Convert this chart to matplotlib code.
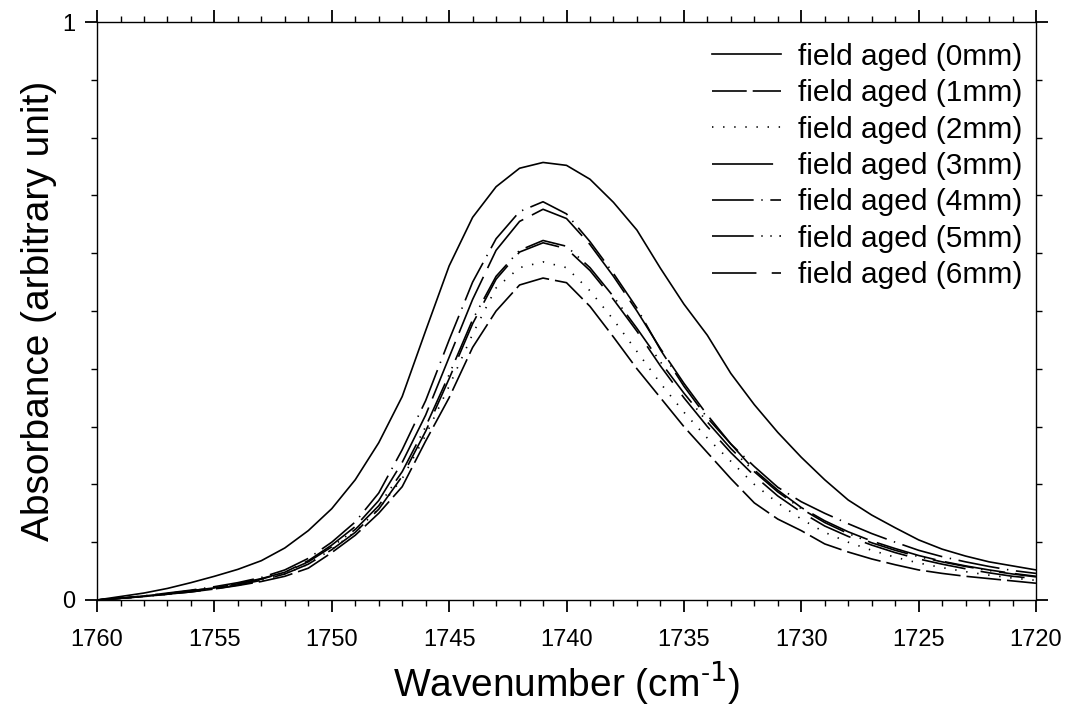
import matplotlib

matplotlib.use('Agg')

import matplotlib.pyplot as plt
from matplotlib.ticker import MultipleLocator, FixedLocator

plt.rcParams['font.family'] = ['Liberation Sans', 'DejaVu Sans']
plt.rcParams['lines.scale_dashes'] = False

# wavenumber axis (cm-1), one point per unit
wavenumber = list(range(1760, 1719, -1))

# absorbance, 1760 -> 1720
aged_0mm = [0.000, 0.006, 0.012, 0.020, 0.030, 0.041, 0.053, 0.068, 0.090, 0.120,
            0.158, 0.208, 0.272, 0.352, 0.466, 0.578, 0.662, 0.715, 0.747, 0.757,
            0.752, 0.728, 0.688, 0.640, 0.574, 0.512, 0.458, 0.392, 0.338, 0.290,
            0.247, 0.208, 0.173, 0.147, 0.125, 0.104, 0.088, 0.076, 0.066, 0.059,
            0.052]
aged_1mm = [0.000, 0.003, 0.006, 0.010, 0.014, 0.019, 0.025, 0.032, 0.041, 0.055,
            0.082, 0.112, 0.150, 0.196, 0.275, 0.350, 0.437, 0.500, 0.545, 0.557,
            0.549, 0.508, 0.455, 0.400, 0.350, 0.300, 0.255, 0.210, 0.168, 0.140,
            0.120, 0.097, 0.083, 0.071, 0.061, 0.052, 0.046, 0.041, 0.037, 0.033,
            0.029]
aged_2mm = [0.000, 0.003, 0.006, 0.010, 0.015, 0.020, 0.026, 0.034, 0.045, 0.062,
            0.088, 0.118, 0.158, 0.210, 0.285, 0.370, 0.460, 0.540, 0.575, 0.585,
            0.575, 0.535, 0.485, 0.430, 0.375, 0.325, 0.280, 0.240, 0.200, 0.168,
            0.140, 0.117, 0.100, 0.086, 0.074, 0.064, 0.056, 0.049, 0.043, 0.038,
            0.034]
aged_3mm = [0.000, 0.003, 0.007, 0.011, 0.016, 0.021, 0.028, 0.037, 0.048, 0.068,
            0.095, 0.127, 0.172, 0.238, 0.320, 0.420, 0.520, 0.605, 0.655, 0.676,
            0.660, 0.615, 0.560, 0.500, 0.435, 0.375, 0.320, 0.270, 0.225, 0.190,
            0.160, 0.137, 0.118, 0.102, 0.089, 0.077, 0.067, 0.059, 0.052, 0.046,
            0.041]
aged_4mm = [0.000, 0.003, 0.007, 0.012, 0.017, 0.023, 0.030, 0.039, 0.052, 0.072,
            0.100, 0.135, 0.185, 0.260, 0.345, 0.450, 0.550, 0.625, 0.672, 0.689,
            0.668, 0.620, 0.565, 0.505, 0.433, 0.370, 0.315, 0.270, 0.231, 0.195,
            0.170, 0.150, 0.132, 0.115, 0.100, 0.086, 0.075, 0.066, 0.058, 0.051,
            0.046]
aged_5mm = [0.000, 0.003, 0.006, 0.011, 0.016, 0.021, 0.028, 0.036, 0.048, 0.066,
            0.092, 0.122, 0.163, 0.222, 0.300, 0.390, 0.485, 0.560, 0.605, 0.622,
            0.612, 0.575, 0.525, 0.470, 0.412, 0.358, 0.308, 0.262, 0.222, 0.187,
            0.158, 0.134, 0.115, 0.099, 0.086, 0.075, 0.066, 0.058, 0.051, 0.045,
            0.040]
aged_6mm = [0.000, 0.003, 0.006, 0.010, 0.014, 0.019, 0.026, 0.034, 0.045, 0.062,
            0.087, 0.117, 0.157, 0.214, 0.292, 0.383, 0.478, 0.555, 0.602, 0.618,
            0.608, 0.570, 0.520, 0.465, 0.405, 0.350, 0.300, 0.255, 0.215, 0.180,
            0.152, 0.128, 0.110, 0.095, 0.082, 0.071, 0.062, 0.054, 0.047, 0.041,
            0.037]

labels = ['field aged (0mm)', 'field aged (1mm)', 'field aged (2mm)', 'field aged (3mm)',
          'field aged (4mm)', 'field aged (5mm)', 'field aged (6mm)']
series = [aged_0mm, aged_1mm, aged_2mm, aged_3mm, aged_4mm, aged_5mm, aged_6mm]
# dash patterns in points
styles = ['-',
          (0, (25, 4.3)),
          (0, (1, 7)),
          (0, (44, 7)),
          (0, (30, 5.5, 1, 5.5)),
          (0, (30, 5.5, 1, 5.5, 1, 5.5)),
          (0, (32, 11))]

fig = plt.figure(figsize=(10.71, 7.17), dpi=100)
ax = fig.add_axes([0.0906, 0.1632, 0.8767, 0.8061])

for y, lab, ls in zip(series, labels, styles):
    ax.plot(wavenumber, y, color='black', linewidth=1.2, linestyle=ls, label=lab)

ax.set_xlim(1760, 1720)
ax.set_ylim(0, 1)

ax.xaxis.set_major_locator(MultipleLocator(5))
ax.xaxis.set_minor_locator(MultipleLocator(1))
ax.yaxis.set_major_locator(FixedLocator([0, 1]))
ax.yaxis.set_minor_locator(MultipleLocator(0.1))
ax.set_yticklabels(['0', '1'])

ax.tick_params(which='both', direction='out', top=True, right=True, width=1.0)
ax.tick_params(which='major', length=8.6, width=1.3)
ax.tick_params(which='minor', length=4.3)
ax.tick_params(axis='x', which='major', labelsize=17, pad=12)
ax.tick_params(axis='y', which='major', labelsize=17, pad=7)

for sp in ax.spines.values():
    sp.set_linewidth(1.0)

ax.set_xlabel('Wavenumber (cm$^{\\mathregular{\u2010}1}$)', fontsize=28, labelpad=6)
ax.set_ylabel('Absorbance (arbitrary unit)', fontsize=28, labelpad=4)

ax.legend(loc='upper right', bbox_to_anchor=(1.008, 1.0), frameon=False,
          fontsize=21.5, handlelength=2.33, handletextpad=0.57,
          labelspacing=0.28, borderaxespad=0.3)

fig.savefig('out.png', dpi=100)
